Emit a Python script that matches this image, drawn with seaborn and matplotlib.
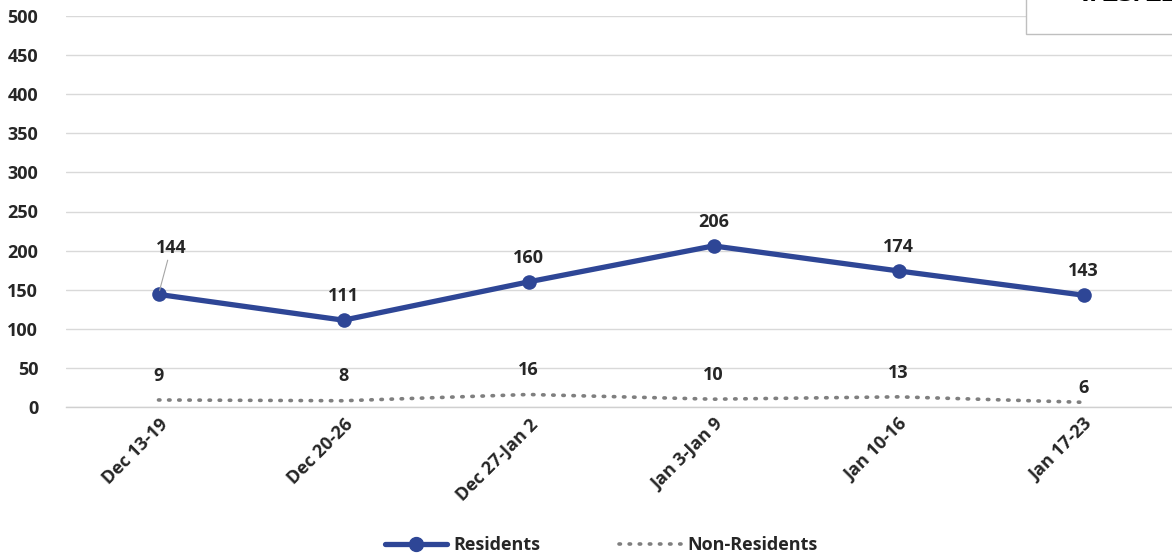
import numpy as np
import pandas as pd
import matplotlib
matplotlib.use("Agg")
import matplotlib.pyplot as plt
import seaborn as sns
from matplotlib.lines import Line2D
from matplotlib.patches import Rectangle

# data
weeks = ['Dec 13-19', 'Dec 20-26', 'Dec 27-Jan 2', 'Jan 3-Jan 9', 'Jan 10-16', 'Jan 17-23']
residents = [144, 111, 160, 206, 174, 143]
non_residents = [9, 8, 16, 10, 13, 6]

sns.set_theme(style="white")
plt.rcParams['font.family'] = ['Open Sans', 'DejaVu Sans']
plt.rcParams['font.weight'] = 'bold'

BLUE = '#2E4696'
GREY = '#7F7F7F'
FS = 13
DOTS = (0, (0.4, 2.4))

df = pd.DataFrame({'week': weeks, 'Residents': residents, 'Non-Residents': non_residents})
df['x'] = np.arange(len(weeks))

fig = plt.figure(figsize=(11.72, 5.58), dpi=100)
ax = fig.add_axes([66 / 1172, 151 / 558, 1110 / 1172, 391 / 558])

sns.lineplot(data=df, x='x', y='Residents', ax=ax, color=BLUE, linewidth=3.8,
             marker='o', markersize=10.5, markeredgewidth=0, zorder=3)
sns.lineplot(data=df, x='x', y='Non-Residents', ax=ax, color=GREY, linewidth=2.6,
             linestyle=DOTS, dash_capstyle='round', zorder=3)

ax.set_xlim(-0.5, len(weeks) - 0.5)
ax.set_ylim(0, 500)
ax.set_yticks(np.arange(0, 501, 50))
ax.set_yticklabels([str(v) for v in range(0, 501, 50)], fontsize=FS, fontweight='bold')
ax.set_xticks(df['x'])
ax.set_xticklabels(weeks, rotation=45, ha='right', va='top', rotation_mode='anchor',
                   fontsize=13, fontweight='bold')
ax.tick_params(axis='y', length=0, pad=20)
ax.tick_params(axis='x', length=0, pad=6)
ax.set_xlabel('')
ax.set_ylabel('')
ax.grid(axis='y', color='#D9D9D9', linewidth=1)
ax.set_axisbelow(True)
for s in ['top', 'right', 'left']:
    ax.spines[s].set_visible(False)
ax.spines['bottom'].set_color('#D0D0D0')
ax.spines['bottom'].set_linewidth(1)

# data labels
for i, v in enumerate(residents):
    if i == 0:
        ax.annotate(str(v), xy=(i, v), xytext=(9, 27), textcoords='offset points',
                    ha='center', va='bottom', fontsize=FS, fontweight='bold',
                    arrowprops=dict(arrowstyle='-', color='#A6A6A6', lw=0.8, shrinkA=0, shrinkB=3))
    else:
        ax.annotate(str(v), xy=(i, v), xytext=(0, 11), textcoords='offset points',
                    ha='center', va='bottom', fontsize=FS, fontweight='bold')
for i, v in enumerate(non_residents):
    dy = 4 if i == len(non_residents) - 1 else 11
    ax.annotate(str(v), xy=(i, v), xytext=(0, dy), textcoords='offset points',
                ha='center', va='bottom', fontsize=FS, fontweight='bold')

# legend
handles = [Line2D([0], [0], color=BLUE, lw=3.8, marker='o', markersize=10),
           Line2D([0], [0], color=GREY, lw=2.6, linestyle=DOTS, dash_capstyle='round')]
fig.legend(handles, ['Residents', 'Non-Residents'], loc='lower center',
           bbox_to_anchor=(0.513, -0.022), ncol=2, frameon=False,
           handlelength=3.4, handletextpad=0.35, columnspacing=4.4,
           prop={'weight': 'bold', 'size': FS})

# cropped box in top-right corner
fig.patches.append(Rectangle((1026 / 1172, 1 - 34 / 558), 0.2, 0.2, transform=fig.transFigure,
                             facecolor='white', edgecolor='#BFBFBF', lw=1, zorder=5))
fig.text(1075 / 1172, 1.012, '1/23/22', ha='left', va='center', fontsize=20,
         fontweight='bold', color='black', zorder=6)

fig.savefig('out.png', dpi=100)
